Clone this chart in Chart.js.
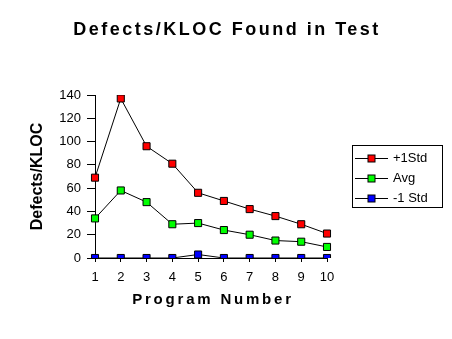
<!DOCTYPE html>
<html>
<head>
<meta charset="utf-8">
<script src="https://cdn.jsdelivr.net/npm/chart.js@4/dist/chart.umd.min.js"></script>
<style>
  html, body { margin: 0; padding: 0; background: #fff; }
  #wrap { width: 452px; height: 339px; }
</style>
</head>
<body>
<div id="wrap"><canvas id="defects"></canvas></div>
<script>
const INK = '#000000';
const FONT = 'Liberation Sans, Arial, sans-serif';

const programs = ['1', '2', '3', '4', '5', '6', '7', '8', '9', '10'];
const plusOneStd = [69, 137, 96, 81, 56, 49, 42, 36, 29, 21];
const average = [34, 58, 48, 29, 30, 24, 20, 15, 14, 9.5];
const minusOneStd = [0, 0, 0, 0, 3, 0, 0, 0, 0, 0];
const seriesNames = ['+1Std', 'Avg', '-1 Std'];
const seriesFills = ['#FF0000', '#00FF00', '#0000FF'];
const yMax = 140;
const yStep = 20;

function series(i, values) {
    return {
        label: seriesNames[i],
        data: values,
        borderColor: INK,
        borderWidth: 1,
        backgroundColor: seriesFills[i],
        pointStyle: 'rect',
        pointRadius: 5,
        pointBorderColor: INK,
        pointBorderWidth: 1,
        pointBackgroundColor: seriesFills[i],
        tension: 0
    };
}

// titles with spread-out letters, plus the boxed legend on the right
const decorations = {
    id: 'decorations',
    afterDraw(chart) {
        const ctx = chart.ctx;
        const area = chart.chartArea;
        ctx.save();
        ctx.fillStyle = INK;
        ctx.textBaseline = 'alphabetic';
        ctx.textAlign = 'center';

        ctx.font = 'bold 18px ' + FONT;
        ctx.letterSpacing = '2.5px';
        ctx.fillText('Defects/KLOC Found in Test', 227, 35);

        ctx.font = 'bold 15px ' + FONT;
        ctx.letterSpacing = '2.8px';
        ctx.fillText('Program Number', 213, 304);

        ctx.letterSpacing = '0px';
        ctx.save();
        ctx.translate(42, (area.top + area.bottom) / 2);
        ctx.rotate(-Math.PI / 2);
        ctx.font = 'bold 16px ' + FONT;
        ctx.fillText('Defects/KLOC', 0, 0);
        ctx.restore();

        // legend
        const box = { x: 352, y: 145, w: 90, h: 62 };
        ctx.strokeStyle = INK;
        ctx.lineWidth = 1;
        ctx.strokeRect(box.x + 0.5, box.y + 0.5, box.w, box.h);
        ctx.font = '13px ' + FONT;
        ctx.textAlign = 'left';
        ctx.textBaseline = 'middle';
        chart.data.datasets.forEach((ds, i) => {
            const y = Math.round(box.y + 13 + i * 20) + 0.5;
            ctx.beginPath();
            ctx.moveTo(box.x + 3, y);
            ctx.lineTo(box.x + 36, y);
            ctx.stroke();
            ctx.fillStyle = ds.pointBackgroundColor;
            ctx.fillRect(box.x + 16, y - 3.5, 7, 7);
            ctx.strokeRect(box.x + 16, y - 3.5, 7, 7);
            ctx.fillStyle = INK;
            ctx.fillText(ds.label, box.x + 41, y);
        });
        ctx.restore();
    }
};

new Chart(document.getElementById('defects'), {
    type: 'line',
    data: {
        labels: programs,
        datasets: [
            series(0, plusOneStd),
            series(1, average),
            series(2, minusOneStd)
        ]
    },
    options: {
        responsive: true,
        maintainAspectRatio: false,
        animation: false,
        layout: { padding: { top: 95, right: 125, bottom: 0, left: 0 } },
        scales: {
            x: {
                type: 'category',
                offset: false,
                grid: { drawOnChartArea: false, drawTicks: true, tickLength: 4, color: INK },
                border: { color: INK, width: 1 },
                ticks: { color: INK, font: { family: FONT, size: 13 }, padding: 8, maxRotation: 0, autoSkip: false },
                afterFit: s => { s.height = 81; }
            },
            y: {
                min: 0,
                max: yMax,
                grid: { drawOnChartArea: false, drawTicks: true, tickLength: 8, color: INK },
                border: { color: INK, width: 1 },
                ticks: { stepSize: yStep, color: INK, font: { family: FONT, size: 13 }, padding: 6 },
                afterFit: s => { s.width = 95; }
            }
        },
        plugins: {
            legend: { display: false },
            title: { display: false },
            tooltip: { enabled: false }
        }
    },
    plugins: [decorations]
});
</script>
</body>
</html>
